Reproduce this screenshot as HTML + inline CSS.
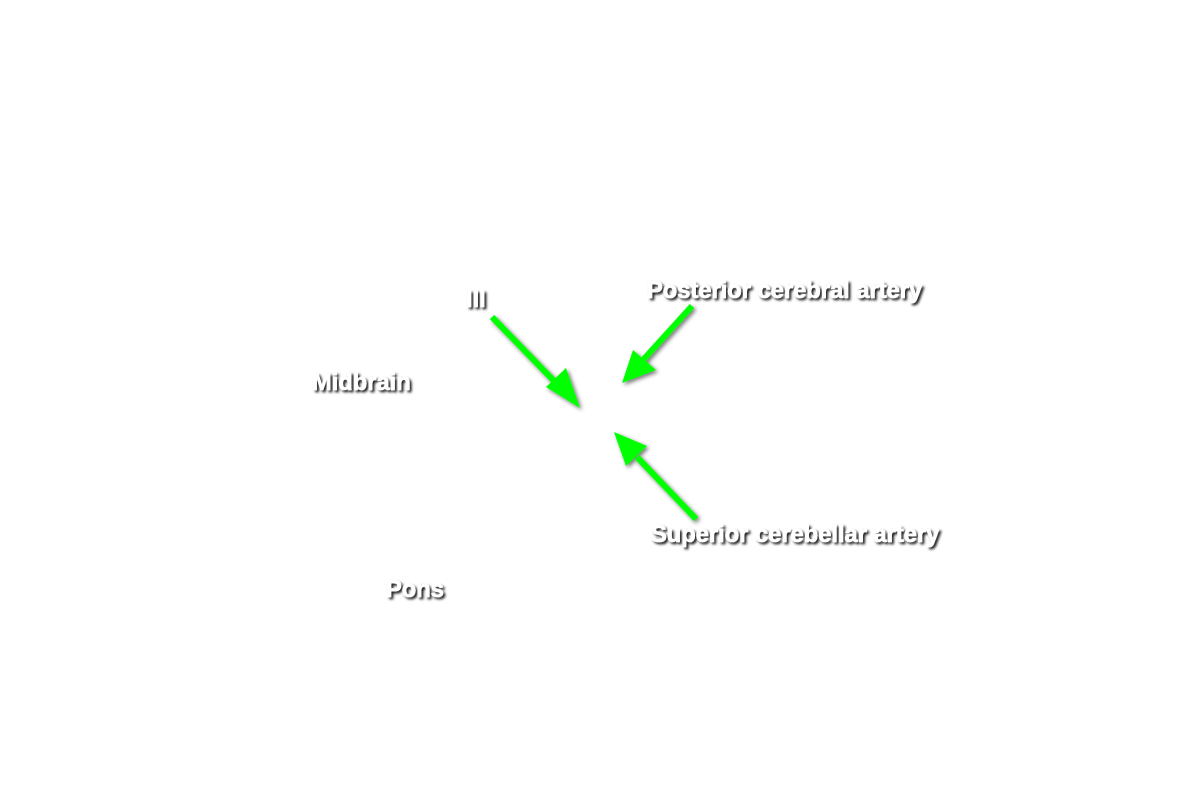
<!DOCTYPE html>
<html><head><style>
html,body{margin:0;padding:0;background:#fff;width:1195px;height:800px;overflow:hidden}
svg{position:absolute;left:0;top:0}
text{font-family:"Liberation Sans",Arial,sans-serif;font-weight:bold;font-size:23.7px;fill:#fff;stroke:#fff;stroke-width:0.6px}
</style></head><body>
<svg width="1195" height="800" viewBox="0 0 1195 800">
<defs>
<filter id="s" x="-20%" y="-50%" width="140%" height="200%">
<feDropShadow dx="2" dy="2" stdDeviation="1.4" flood-color="#000" flood-opacity="0.9"/>
</filter>
<filter id="a" x="-30%" y="-30%" width="160%" height="160%">
<feDropShadow dx="2" dy="2" stdDeviation="2" flood-color="#000" flood-opacity="0.55"/>
</filter>
</defs>
<g filter="url(#a)" fill="#00ff00" stroke="#00ff00">
<line x1="492" y1="317" x2="556" y2="383" stroke-width="6"/>
<polygon points="580,408 546,387 566,368" stroke="none"/>
<line x1="692" y1="306" x2="643" y2="360" stroke-width="6"/>
<polygon points="622,383 633,350 656,370" stroke="none"/>
<line x1="696" y1="519" x2="637" y2="457" stroke-width="6"/>
<polygon points="614,432 647,446 626,466" stroke="none"/>
</g>
<g filter="url(#s)">
<text x="466" y="307">III</text>
<text x="647" y="298">Posterior cerebral artery</text>
<text x="312" y="390">Midbrain</text>
<text x="651" y="542">Superior cerebellar artery</text>
<text x="386" y="597">Pons</text>
</g>
</svg>
</body></html>
